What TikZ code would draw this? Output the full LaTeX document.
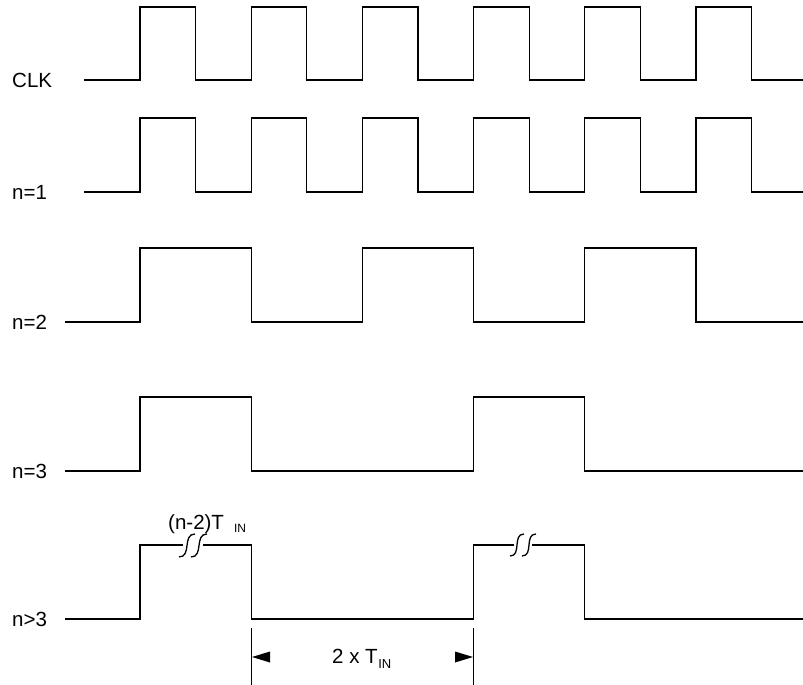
\documentclass[tikz,border=0pt]{standalone}
\usepackage{fontspec}
\setmainfont{Liberation Sans}
\begin{document}
\begin{tikzpicture}[x=1pt,y=-1pt,
  wave/.style={line width=1.3pt, line join=miter},
  lbl/.style={inner sep=0pt, anchor=base west, font=\fontsize{20.5}{24}\selectfont},
  dimline/.style={line width=1.1pt}]
\useasboundingbox (0,0) rectangle (803,685);
% labels
\node[lbl] (lclk) at (12,87) {CLK};
\node[lbl] (lone) at (12,199) {n=1};
\node[lbl] (ltwo) at (12,329) {n=2};
\node[lbl] (lthree) at (12,478) {n=3};
\node[lbl] (lfour) at (12,626) {n>3};
% CLK
\draw[wave] (84,80) foreach \k in {0,...,5} { -- ({140+111.2*\k},80) -- ({140+111.2*\k},7) -- ({195.6+111.2*\k},7) -- ({195.6+111.2*\k},80) } -- (803,80);
% n=1
\draw[wave] (84,192) foreach \k in {0,...,5} { -- ({140+111.2*\k},192) -- ({140+111.2*\k},118) -- ({195.6+111.2*\k},118) -- ({195.6+111.2*\k},192) } -- (803,192);
% n=2
\draw[wave] (65,322) foreach \k in {0,...,2} { -- ({140+222.4*\k},322) -- ({140+222.4*\k},248) -- ({251.2+222.4*\k},248) -- ({251.2+222.4*\k},322) } -- (803,322);
% n=3
\draw[wave] (65,471) -- (140,471) -- (140,397) -- (251.2,397) -- (251.2,471) -- (473.6,471) -- (473.6,397) -- (584.8,397) -- (584.8,471) -- (803,471);
% n>3 with breaks
\draw[wave] (65,619) -- (140,619) -- (140,545) -- (183,545);
\draw[wave] (179,557) .. controls (192,557) and (182,534) .. (195,534);
\draw[wave] (191,557) .. controls (204,557) and (194,534) .. (207,534);
\draw[wave] (203,545) -- (251.2,545) -- (251.2,619) -- (473.6,619) -- (473.6,545) -- (514,545);
\draw[wave] (510,556) .. controls (522,556) and (512,534) .. (524,534);
\draw[wave] (522,556) .. controls (534,556) and (524,534) .. (536,534);
\draw[wave] (532,545) -- (584.8,545) -- (584.8,619) -- (803,619);
% (n-2)T_IN label
\node[lbl] (ltin) at (168,529) {(n-2)T\hspace{10pt}\raisebox{-3pt}{\fontsize{12}{12}\selectfont IN}};
% dimension
\coordinate (da) at (251.2,628);
\coordinate (db) at (251.2,685);
\coordinate (dc) at (473.6,628);
\coordinate (dd) at (473.6,685);
\draw[dimline] (da) -- (db);
\draw[dimline] (dc) -- (dd);
\fill (252,657) -- (270,651.5) -- (270,662.5) -- cycle;
\fill (473,657) -- (455,651.5) -- (455,662.5) -- cycle;
\node[lbl] (ldim) at (332,663) {2 x T\hspace{0.5pt}\raisebox{-5pt}{\fontsize{13}{13}\selectfont IN}};
\end{tikzpicture}
\end{document}
